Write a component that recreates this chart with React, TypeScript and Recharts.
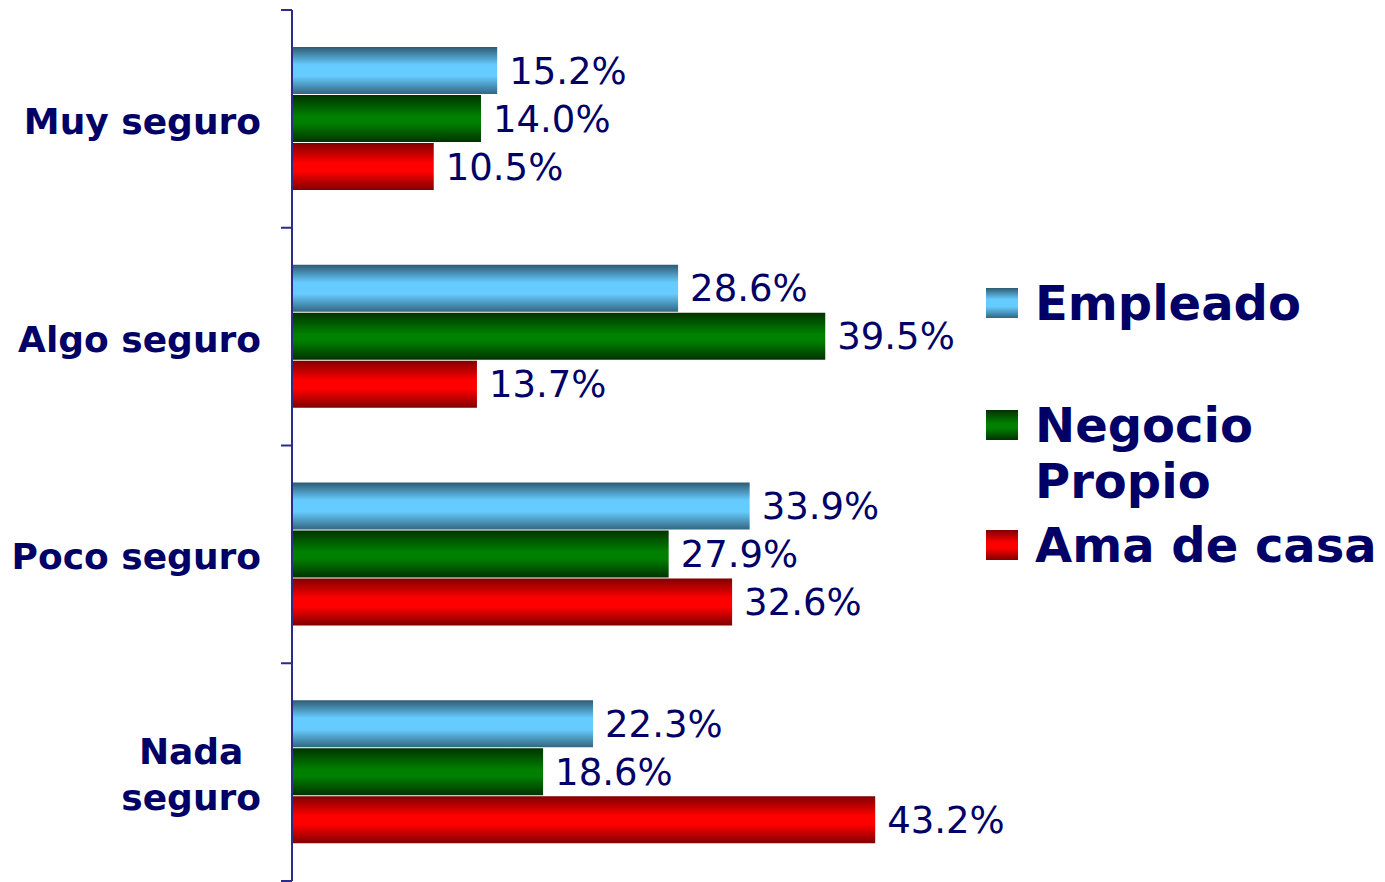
import { BarChart, Bar, XAxis, YAxis, LabelList } from "recharts";

const categories = ["Muy seguro", "Algo seguro", "Poco seguro", "Nada seguro"];
const empleado = [15.2, 28.6, 33.9, 22.3];
const negocioPropio = [14.0, 39.5, 27.9, 18.6];
const amaDeCasa = [10.5, 13.7, 32.6, 43.2];

const seriesNames = ["Empleado", "Negocio Propio", "Ama de casa"];

const data = categories.map((name, i) => ({
  name,
  empleado: empleado[i],
  negocio: negocioPropio[i],
  ama: amaDeCasa[i],
}));

const NAVY = "#000066";
const FONT = "'DejaVu Sans', Verdana, sans-serif";
const W = 1385;
const H = 882;
const TOP = 10;
const BOTTOM = 1;
const AXIS_X = 292;
const BAND = (H - TOP - BOTTOM) / categories.length;

// etiquetas de categoría, "Nada seguro" se parte en dos líneas
const wrapped: Record<string, string[]> = {
  "Nada seguro": ["Nada", "seguro"],
};

function measure(text: string, font: string) {
  const ctx = document.createElement("canvas").getContext("2d");
  if (!ctx) return text.length * 20;
  ctx.font = font;
  return ctx.measureText(text).width;
}

function CategoryTick({ y, payload, index }: any) {
  const label: string = payload.value;
  const lines = wrapped[label] || [label];
  const right = AXIS_X - 31;
  const font = `bold 36px ${FONT}`;
  const maxW = Math.max(...lines.map((l) => measure(l, font)));
  const lh = 46;
  const startY = y + 2 - ((lines.length - 1) * lh) / 2;
  return (
    <g>
      <line x1={AXIS_X - 11} x2={AXIS_X} y1={y - BAND / 2} y2={y - BAND / 2} stroke="#2b2b8c" strokeWidth={2} />
      {index === categories.length - 1 && (
        <line x1={AXIS_X - 11} x2={AXIS_X} y1={y + BAND / 2} y2={y + BAND / 2} stroke="#2b2b8c" strokeWidth={2} />
      )}
      {lines.map((l, i) => (
        <text
          key={l}
          x={lines.length > 1 ? right - maxW / 2 : right}
          y={startY + i * lh}
          dy="0.36em"
          textAnchor={lines.length > 1 ? "middle" : "end"}
          fontFamily={FONT}
          fontWeight="bold"
          fontSize={36}
          fill={NAVY}
        >
          {l}
        </text>
      ))}
    </g>
  );
}

const swatches = ["url(#gEmp)", "url(#gNeg)", "url(#gAma)"];
const legendGaps = [0, 66, 8];

function Gradients() {
  return (
    <>
      <linearGradient id="gEmp" x1="0" y1="0" x2="0" y2="1">
        <stop offset="0%" stopColor="#2e5a72" />
        <stop offset="38%" stopColor="#66ccff" />
        <stop offset="62%" stopColor="#66ccff" />
        <stop offset="100%" stopColor="#336680" />
      </linearGradient>
      <linearGradient id="gNeg" x1="0" y1="0" x2="0" y2="1">
        <stop offset="0%" stopColor="#003300" />
        <stop offset="45%" stopColor="#008000" />
        <stop offset="60%" stopColor="#008000" />
        <stop offset="100%" stopColor="#003300" />
      </linearGradient>
      <linearGradient id="gAma" x1="0" y1="0" x2="0" y2="1">
        <stop offset="0%" stopColor="#800000" />
        <stop offset="42%" stopColor="#ff0000" />
        <stop offset="60%" stopColor="#ff0000" />
        <stop offset="100%" stopColor="#800000" />
      </linearGradient>
    </>
  );
}

function SideLegend() {
  return (
    <div
      style={{
        position: "absolute",
        left: 985,
        top: 275,
        width: 400,
        fontFamily: FONT,
        fontWeight: "bold",
        fontSize: 48,
        color: NAVY,
        lineHeight: "56px",
      }}
    >
      {seriesNames.map((n, i) => (
        <div key={n} style={{ display: "flex", alignItems: "flex-start", marginTop: legendGaps[i] }}>
          <svg width={34} height={32} style={{ marginTop: 12, marginRight: 16, flex: "none" }}>
            <rect x={1} y={1} width={32} height={30} fill={swatches[i]} />
          </svg>
          <div>
            {i === 1 ? (
              <>
                Negocio
                <br />
                Propio
              </>
            ) : (
              n
            )}
          </div>
        </div>
      ))}
    </div>
  );
}

const valueLabel = (v: any) => `${Number(v).toFixed(1)}%`;
const labelStyle = { fontFamily: FONT, fontSize: 37, fill: NAVY };

export default function App() {
  return (
    <div style={{ position: "absolute", left: 0, top: 0, width: W, height: H, background: "#fff" }}>
      <BarChart
        width={W}
        height={H}
        data={data}
        layout="vertical"
        margin={{ top: TOP, right: W - AXIS_X - 675, bottom: BOTTOM, left: 0 }}
        barCategoryGap="17%"
        barGap={1}
      >
        <defs>
          <Gradients />
        </defs>
        <XAxis type="number" domain={[0, 50]} hide />
        <YAxis
          type="category"
          dataKey="name"
          width={AXIS_X}
          axisLine={{ stroke: "#2b2b8c", strokeWidth: 2 }}
          tickLine={false}
          tick={<CategoryTick />}
          interval={0}
        />
        <Bar dataKey="empleado" name="Empleado" fill="url(#gEmp)" isAnimationActive={false}>
          <LabelList dataKey="empleado" position="right" offset={12} formatter={valueLabel} style={labelStyle} />
        </Bar>
        <Bar dataKey="negocio" name="Negocio Propio" fill="url(#gNeg)" isAnimationActive={false}>
          <LabelList dataKey="negocio" position="right" offset={12} formatter={valueLabel} style={labelStyle} />
        </Bar>
        <Bar dataKey="ama" name="Ama de casa" fill="url(#gAma)" isAnimationActive={false}>
          <LabelList dataKey="ama" position="right" offset={12} formatter={valueLabel} style={labelStyle} />
        </Bar>
      </BarChart>
      <SideLegend />
    </div>
  );
}
